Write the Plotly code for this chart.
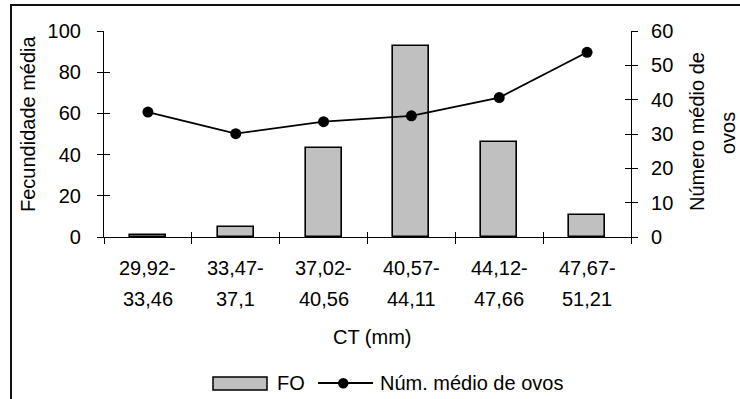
import plotly.graph_objects as go

# Size classes of carapace length (CT, mm)
class_low = ["29,92-", "33,47-", "37,02-", "40,57-", "44,12-", "47,67-"]
class_high = ["33,46", "37,1", "40,56", "44,11", "47,66", "51,21"]

# Mean fecundity (FO, left axis) and mean egg number (right axis)
fo_values = [1, 5, 43, 92.5, 46, 10.5]
ovos_values = [36.4, 30.1, 33.6, 35.3, 40.6, 53.8]

left_ticks = [0, 20, 40, 60, 80, 100]
right_ticks = [0, 10, 20, 30, 40, 50, 60]

W, H = 740, 399
L, R, T, B = 104, 631, 31, 237  # plot area in pixels


def px(x):
    return (x - L) / (R - L)


def py(y):
    return (B - y) / (B - T)


FONT = "Liberation Sans, Arial, sans-serif"
FS = 20
n = len(class_low)
xs = list(range(n))

fig = go.Figure()
fig.add_trace(go.Bar(
    x=xs, y=fo_values, width=0.41, name="FO",
    marker=dict(color="#c0c0c0", line=dict(color="#000000", width=1.6)),
    showlegend=False,
))
fig.add_trace(go.Scatter(
    x=xs, y=ovos_values, yaxis="y2", mode="lines+markers",
    name="Núm. médio de ovos",
    line=dict(color="#000000", width=1.8),
    marker=dict(color="#000000", size=11),
    showlegend=False,
))

boundaries = [i - 0.5 for i in range(n + 1)]
axis_common = dict(showgrid=False, zeroline=False, showline=True,
                   linecolor="#000000", linewidth=1.2,
                   tickcolor="#000000", tickwidth=1.2,
                   tickfont=dict(family=FONT, size=FS, color="#000000"))

fig.update_layout(
    width=W, height=H,
    margin=dict(l=L, r=W - R, t=T, b=H - B, pad=0),
    paper_bgcolor="white", plot_bgcolor="white",
    font=dict(family=FONT, size=FS, color="#000000"),
    bargap=0,
    xaxis=dict(range=[-0.5, n - 0.5], tickmode="array", tickvals=boundaries,
               showticklabels=False, ticks="outside", ticklen=6,
               **{k: v for k, v in axis_common.items() if k != "tickfont"}),
    xaxis2=dict(range=[-0.5, n - 0.5], overlaying="x", anchor="y",
                tickmode="array", tickvals=boundaries, showticklabels=False,
                ticks="inside", ticklen=5, showline=False, showgrid=False,
                zeroline=False, tickcolor="#000000", tickwidth=1.2),
    yaxis=dict(range=[0, 100], tickmode="array", tickvals=left_ticks,
               ticks="outside", ticklen=6, ticklabelstandoff=12,
               **axis_common),
    yaxis2=dict(range=[0, 60], overlaying="y", side="right", anchor="x",
                tickmode="array", tickvals=right_ticks,
                ticks="outside", ticklen=6, ticklabelstandoff=9,
                **axis_common),
    yaxis3=dict(range=[0, 100], overlaying="y", anchor="x", side="left",
                tickmode="array", tickvals=left_ticks, ticks="inside",
                ticklen=6, showticklabels=False, showline=False,
                showgrid=False, zeroline=False, tickcolor="#000000",
                tickwidth=1.2),
    yaxis4=dict(range=[0, 60], overlaying="y", anchor="x", side="right",
                tickmode="array", tickvals=right_ticks, ticks="inside",
                ticklen=6, showticklabels=False, showline=False,
                showgrid=False, zeroline=False, tickcolor="#000000",
                tickwidth=1.2),
)

# Empty traces so the overlay tick axes are rendered
fig.add_trace(go.Scatter(x=[None], y=[None], xaxis="x2", yaxis="y3",
                         showlegend=False, hoverinfo="skip"))
fig.add_trace(go.Scatter(x=[None], y=[None], xaxis="x2", yaxis="y4",
                         showlegend=False, hoverinfo="skip"))

ann = []
# Two-line category labels
for i in range(n):
    ann.append(dict(x=i, y=py(268), xref="x", yref="paper", text=class_low[i],
                    showarrow=False, xanchor="center", yanchor="middle"))
    ann.append(dict(x=i, y=py(299), xref="x", yref="paper", text=class_high[i],
                    showarrow=False, xanchor="center", yanchor="middle"))

# Axis titles
centered = dict(xref="paper", yref="paper", showarrow=False,
                xanchor="center", yanchor="middle")
ann.append(dict(x=px(373), y=py(337), text="CT (mm)", **centered))
ann.append(dict(x=px(28), y=py(124), text="Fecundidade média",
                textangle=-90, **centered))
ann.append(dict(x=px(697), y=py(132), text="Número médio de",
                textangle=-90, **centered))
ann.append(dict(x=px(728), y=py(133), text="ovos", textangle=-90,
                **centered))

# Legend text
ann.append(dict(x=px(275), y=py(383), xref="paper", yref="paper", text="FO",
                showarrow=False, xanchor="left", yanchor="middle"))
ann.append(dict(x=px(378), y=py(383), xref="paper", yref="paper",
                text="Núm. médio de ovos", showarrow=False,
                xanchor="left", yanchor="middle"))

shapes = [
    # chart frame
    dict(type="rect", xref="paper", yref="paper",
         x0=px(11), x1=px(760), y0=py(420), y1=py(5),
         line=dict(color="#111111", width=2), fillcolor="rgba(0,0,0,0)",
         layer="below"),
    # legend: bar swatch
    dict(type="rect", xref="paper", yref="paper",
         x0=px(213), x1=px(267), y0=py(390), y1=py(377),
         line=dict(color="#000000", width=1.5), fillcolor="#c0c0c0"),
    # legend: line with marker
    dict(type="line", xref="paper", yref="paper",
         x0=px(318), x1=px(373), y0=py(383), y1=py(383),
         line=dict(color="#000000", width=1.8)),
    dict(type="circle", xref="paper", yref="paper",
         x0=px(338), x1=px(348.5), y0=py(388.5), y1=py(378),
         line=dict(color="#000000", width=0), fillcolor="#000000"),
]

fig.update_layout(annotations=ann, shapes=shapes)
fig.write_html("out.html")
